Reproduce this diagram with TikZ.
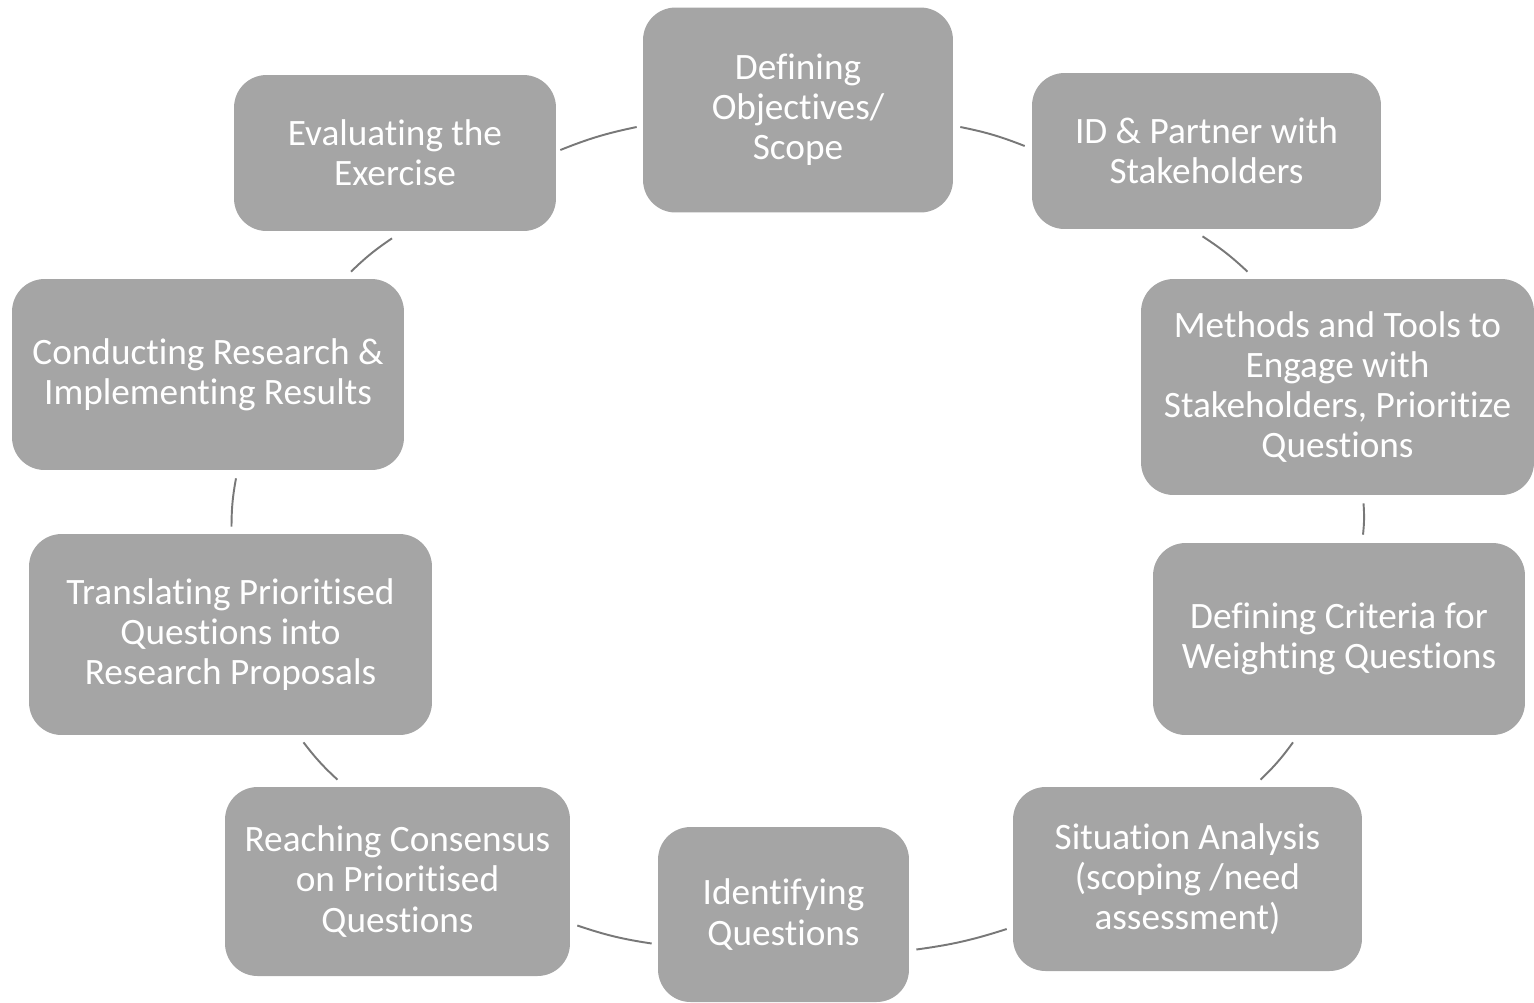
\documentclass[tikz,border=0pt]{standalone}
\usepackage{fontspec}
\setmainfont{Carlito}[Ligatures=NoCommon]
\usepackage{tikz}
\usetikzlibrary{calc}
\definecolor{boxgray}{RGB}{165, 165, 165}
\definecolor{linkgray}{RGB}{120, 120, 120}
\tikzset{
  stage/.style={fill=boxgray, rounded corners=0.65cm, text=white, align=center,
    inner sep=0pt, font=\fontsize{21.2}{22.8}\selectfont},
  link/.style={draw=linkgray, line width=1.1pt, bend left=5}
}

\begin{document}
\begin{tikzpicture}[x=0.02cm, y=-0.02cm]
  \useasboundingbox (0,0) rectangle (1534,1002);

  % Stages of the cycle
  \node[stage, minimum width=6.2cm, minimum height=4.1cm] (obj) at (798,110) {Defining\\Objectives/\\Scope};
  \node[stage, minimum width=6.98cm, minimum height=3.12cm] (partner) at (1206.5,151) {ID \& Partner with\\Stakeholders};
  \node[stage, minimum width=7.86cm, minimum height=4.32cm] (methods) at (1337.5,387) {Methods and Tools to\\Engage with\\Stakeholders, Prioritize\\Questions};
  \node[stage, minimum width=7.44cm, minimum height=3.84cm] (criteria) at (1339,639) {Defining Criteria for\\Weighting Questions};
  \node[stage, minimum width=6.98cm, minimum height=3.68cm] (situation) at (1187.5,879) {Situation Analysis\\(scoping /need\\assessment)};
  \node[stage, minimum width=5.02cm, minimum height=3.5cm] (ident) at (783.5,914.5) {Identifying\\Questions};
  \node[stage, minimum width=6.9cm, minimum height=3.78cm] (consensus) at (397.5,881.5) {Reaching Consensus\\on Prioritised\\Questions};
  \node[stage, minimum width=8.06cm, minimum height=4.02cm] (translate) at (230.5,634.5) {Translating Prioritised\\Questions into\\Research Proposals};
  \node[stage, minimum width=7.84cm, minimum height=3.82cm] (research) at (208,374.5) {Conducting Research \&\\Implementing Results};
  \node[stage, minimum width=6.44cm, minimum height=3.12cm] (evaluate) at (395,153) {Evaluating the\\Exercise};

  % Arcs between stages
  \draw[link] ($(obj.east)+(7,17)$) to ($(partner.west)+(-7,-5)$);
  \draw[link] ($(partner.south)+(-4,7)$) to ($(methods.north)+(-90,-7)$);
  \draw[link] ($(methods.south)+(26,8)$) to ($(criteria.north)+(24,-8)$);
  \draw[link] ($(criteria.south)+(-46,7)$) to ($(situation.north)+(73,-7)$);
  \draw[link] ($(situation.west)+(-6,50)$) to ($(ident.east)+(7,35)$);
  \draw[link] ($(ident.west)+(-6,29)$) to ($(consensus.east)+(7,44)$);
  \draw[link] ($(consensus.north)+(-60,-7)$) to ($(translate.south)+(73,7)$);
  \draw[link] ($(translate.north)+(1,-7)$) to ($(research.south)+(28,8)$);
  \draw[link] ($(research.north)+(143,-7)$) to ($(evaluate.south)+(-3,7)$);
  \draw[link] ($(evaluate.east)+(4,-3)$) to ($(obj.west)+(-6,17)$);
\end{tikzpicture}
\end{document}
